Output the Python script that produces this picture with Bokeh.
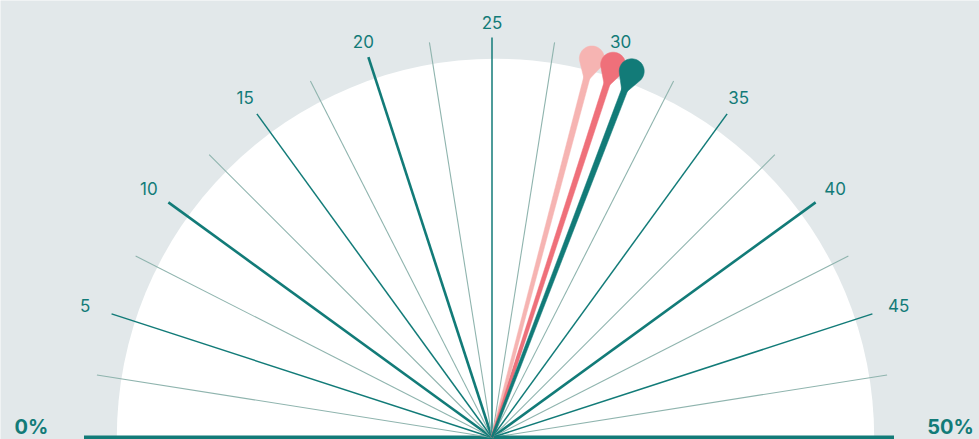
import math
from bokeh.plotting import figure
from bokeh.models import Range1d
from bokeh.core.properties import value
from bokeh.embed import file_html
from bokeh.resources import INLINE

# Gauge scale (percent)
scale_min = 0
scale_max = 50
tick_values = [0, 2.5, 5, 7.5, 10, 12.5, 15, 17.5, 20, 22.5, 25, 27.5, 30,
               32.5, 35, 37.5, 40, 42.5, 45, 47.5, 50]
label_values = [5, 10, 15, 20, 25, 30, 35, 40, 45]
label_texts = ["5", "10", "15", "20", "25", "30", "35", "40", "45"]
end_labels = ["0%", "50%"]

# Needle readings
needle_values = [29.1, 30.0, 30.8]
needle_colors = ["#f6b4b2", "#ef707a", "#127b78"]

BG = "#e2e8ea"
TEAL = "#127b78"
GREY_TEAL = "#8fb4ae"

W, H = 979, 439
CX, CY = 0.0, 0.0

p = figure(width=W, height=H, output_backend="svg", toolbar_location=None,
           x_range=Range1d(-491.5, 487.5), y_range=Range1d(-2, 437),
           min_border=0, min_border_left=0, min_border_right=0,
           min_border_top=0, min_border_bottom=0)
p.axis.visible = False
p.grid.visible = False
p.outline_line_color = None
p.background_fill_color = BG
p.border_fill_color = BG


def angle_of(v):
    return math.pi * (1 - (v - scale_min) / (scale_max - scale_min))


# white dial face
p.wedge(x=3.5, y=0, radius=378.7, start_angle=0, end_angle=math.pi,
        fill_color="white", line_color=None)

# radial tick lines
for v in tick_values:
    a = angle_of(v)
    if v == scale_min:
        length, width, color = 408, 4.0, TEAL
    elif v == scale_max:
        length, width, color = 402, 4.0, TEAL
    elif v % 10 == 0:
        length, width, color = 400, 2.6, TEAL
    elif v % 5 == 0:
        length, width, color = 400, 1.5, TEAL
    else:
        length, width, color = 400, 1.1, GREY_TEAL
    p.segment(x0=CX, y0=CY, x1=CX + length * math.cos(a),
              y1=CY + length * math.sin(a), line_color=color,
              line_width=width)

# tick labels, pushed a little further out towards the sides
lx, ly = [], []
for v in label_values:
    a = angle_of(v)
    r = 415 + 14 * math.cos(a) ** 2
    lx.append(CX + r * math.cos(a))
    ly.append(CY + r * math.sin(a))
p.text(x=lx, y=ly, text=label_texts, text_align="center",
       text_baseline="middle", text_font=value("Inter"),
       text_font_size="17px", text_color=TEAL)

# end labels
p.text(x=[-460.5, 458.5], y=[10.5, 10.5], text=end_labels, text_align="center",
       text_baseline="middle", text_font=value("Inter"),
       text_font_size="20px", text_font_style="bold", text_color=TEAL)


# needles: tapered shaft with a teardrop head
def needle_shape(v):
    a = angle_of(v)
    ux, uy = math.cos(a), math.sin(a)
    nx, ny = -uy, ux
    r_end, w0, w1 = 380, 1.2, 3.2
    shaft_x = [CX + nx * w0, CX + ux * r_end + nx * w1,
               CX + ux * r_end - nx * w1, CX - nx * w0]
    shaft_y = [CY + ny * w0, CY + uy * r_end + ny * w1,
               CY + uy * r_end - ny * w1, CY - ny * w0]
    rc, rad, rtip = 392, 12.5, 366
    hx, hy = CX + ux * rc, CY + uy * rc
    d = rc - rtip
    phi = math.acos(rad / d)
    back = math.atan2(-uy, -ux)  # direction from head centre to tip
    xs = [CX + ux * rtip]
    ys = [CY + uy * rtip]
    n = 40
    start = back + phi
    end = back + 2 * math.pi - phi
    for i in range(n + 1):
        t = start + (end - start) * i / n
        xs.append(hx + rad * math.cos(t))
        ys.append(hy + rad * math.sin(t))
    return shaft_x, shaft_y, xs, ys


for v, c in zip(needle_values, needle_colors):
    sx, sy, hx, hy = needle_shape(v)
    p.patch(sx, sy, fill_color=c, line_color=c, line_width=0.5)
    p.patch(hx, hy, fill_color=c, line_color=c, line_width=0.5)

open("out.html", "w").write(file_html(p, INLINE))
